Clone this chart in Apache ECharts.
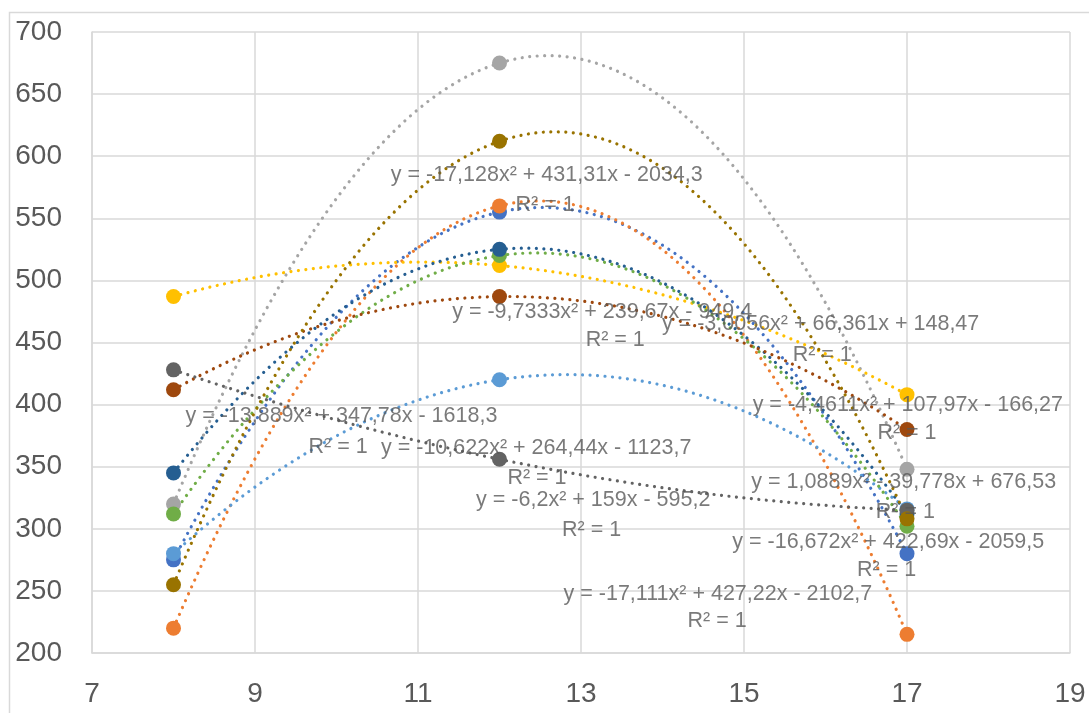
<!DOCTYPE html>
<html>
<head>
<meta charset="utf-8">
<script src="https://cdn.jsdelivr.net/npm/echarts@6/dist/echarts.min.js"></script>
<style>
html,body{margin:0;padding:0;background:#fff;}
#chart{width:1089px;height:713px;}
</style>
</head>
<body>
<div id="chart"></div>
<script>
// ---- data ----
const xValues = [8, 12, 17];

const seriesNames = ['S1','S2','S3','S4','S5','S6','S7','S8','S9','S10'];
const s1Blue      = [275, 555, 280];
const s2Orange    = [220, 560, 215];
const s3Gray      = [320, 675, 348];
const s4Yellow    = [487, 512, 408];
const s5LightBlue = [280, 420, 316];
const s6Green     = [312, 520, 302];
const s7DarkBlue  = [345, 525, 312];
const s8Brown     = [412, 487, 380];
const s9DarkGray  = [428, 356, 315];
const s10Olive    = [255, 612, 308];

const seriesValues = [s1Blue, s2Orange, s3Gray, s4Yellow, s5LightBlue, s6Green, s7DarkBlue, s8Brown, s9DarkGray, s10Olive];
const seriesColors = ['#4472C4','#ED7D31','#A5A5A5','#FFC000','#5B9BD5','#70AD47','#255E91','#9E480E','#636363','#997300'];

// trendline equation labels (text as shown)
const equationTexts = [
  'y = -13,889x² + 347,78x - 1618,3',
  'y = -17,111x² + 427,22x - 2102,7',
  'y = -17,128x² + 431,31x - 2034,3',
  'y = -3,0056x² + 66,361x + 148,47',
  'y = -6,2x² + 159x - 595,2',
  'y = -10,622x² + 264,44x - 1123,7',
  'y = -9,7333x² + 239,67x - 949,4',
  'y = -4,4611x² + 107,97x - 166,27',
  'y = 1,0889x² - 39,778x + 676,53',
  'y = -16,672x² + 422,69x - 2059,5'
];
const r2Text = 'R² = 1';
// label anchor positions in data coordinates: [eqX, eqY, r2X, r2Y]
const labelAnchors = [
  [10.06, 391.1, 10.02, 366.1],
  [14.68, 247.6, 14.67, 225.8],
  [12.58, 584.7, 12.56, 560.5],
  [15.94, 464.5, 15.96, 439.5],
  [13.15, 323.4, 13.13, 299.2],
  [12.45, 365.3, 12.46, 341.1],
  [13.26, 474.2, 13.42, 451.6],
  [17.01, 400.0, 17.00, 377.4],
  [16.96, 337.9, 16.98, 313.7],
  [16.77, 289.5, 16.75, 266.9]
];

const xTicks = {min: 7, max: 19, interval: 2};
const yTicks = {min: 200, max: 700, interval: 50};

// ---- quadratic least-squares trendline (as the spreadsheet does) ----
function fitQuadratic(xs, ys) {
  let S = [0,0,0,0,0], T = [0,0,0];
  for (let i = 0; i < xs.length; i++) {
    let p = 1;
    for (let k = 0; k < 5; k++) { S[k] += p; if (k < 3) T[k] += p * ys[i]; p *= xs[i]; }
  }
  const M = [[S[0],S[1],S[2],T[0]],[S[1],S[2],S[3],T[1]],[S[2],S[3],S[4],T[2]]];
  for (let c = 0; c < 3; c++) {
    let piv = c;
    for (let r = c+1; r < 3; r++) if (Math.abs(M[r][c]) > Math.abs(M[piv][c])) piv = r;
    [M[c], M[piv]] = [M[piv], M[c]];
    for (let r = 0; r < 3; r++) {
      if (r === c) continue;
      const f = M[r][c] / M[c][c];
      for (let k = c; k < 4; k++) M[r][k] -= f * M[c][k];
    }
  }
  return [M[0][3]/M[0][0], M[1][3]/M[1][1], M[2][3]/M[2][2]];
}
function trendPoints(xs, ys) {
  const [c, b, a] = fitQuadratic(xs, ys);
  const pts = [];
  const x0 = Math.min(...xs), x1 = Math.max(...xs);
  const n = 180;
  for (let i = 0; i <= n; i++) {
    const x = x0 + (x1 - x0) * i / n;
    pts.push([x, a*x*x + b*x + c]);
  }
  return pts;
}

const series = [];
seriesValues.forEach((vals, i) => {
  series.push({
    name: seriesNames[i] + ' trend',
    type: 'line',
    data: trendPoints(xValues, vals),
    showSymbol: false,
    symbol: 'none',
    silent: true,
    z: 3,
    lineStyle: {color: seriesColors[i], width: 3.2, type: [0.01, 7.5], cap: 'round'}
  });
});
seriesValues.forEach((vals, i) => {
  series.push({
    name: seriesNames[i],
    type: 'scatter',
    data: xValues.map((x, j) => [x, vals[j]]),
    symbol: 'circle',
    symbolSize: 15,
    z: 4,
    itemStyle: {color: seriesColors[i], opacity: 1}
  });
});
// trendline labels
const labelData = [];
labelAnchors.forEach((a, i) => {
  labelData.push([a[0], a[1], equationTexts[i]]);
  labelData.push([a[2], a[3], r2Text]);
});
series.push({
  name: 'labels',
  type: 'scatter',
  data: labelData,
  symbolSize: 0,
  silent: true,
  z: 6,
  label: {
    show: true,
    position: 'inside',
    formatter: p => p.data[2],
    color: '#595959',
    fontSize: 21.5,
    fontFamily: 'Liberation Sans'
  }
});

const chart = echarts.init(document.getElementById('chart'), null, {renderer: 'canvas'});
chart.setOption({
  animation: false,
  backgroundColor: '#fff',
  grid: {left: 92, right: 19, top: 32, bottom: 60, containLabel: false, outerBoundsMode: 'none'},
  xAxis: {
    type: 'value', min: xTicks.min, max: xTicks.max, interval: xTicks.interval,
    axisLine: {show: true, lineStyle: {color: '#d9d9d9', width: 1.5}},
    axisTick: {show: false},
    splitLine: {show: true, lineStyle: {color: '#d9d9d9', width: 1.5}},
    axisLabel: {color: '#595959', fontSize: 28, fontFamily: 'Liberation Sans', margin: 27}
  },
  yAxis: {
    type: 'value', min: yTicks.min, max: yTicks.max, interval: yTicks.interval,
    axisLine: {show: true, lineStyle: {color: '#d9d9d9', width: 1.5}},
    axisTick: {show: false},
    splitLine: {show: true, lineStyle: {color: '#d9d9d9', width: 1.5}},
    axisLabel: {color: '#595959', fontSize: 28, fontFamily: 'Liberation Sans', margin: 30}
  },
  graphic: [{
    type: 'rect', silent: true, z: -1,
    shape: {x: 9.5, y: 12.5, width: 1200, height: 800},
    style: {fill: 'none', stroke: '#d9d9d9', lineWidth: 1.5}
  }],
  series: series
});
</script>
</body>
</html>
